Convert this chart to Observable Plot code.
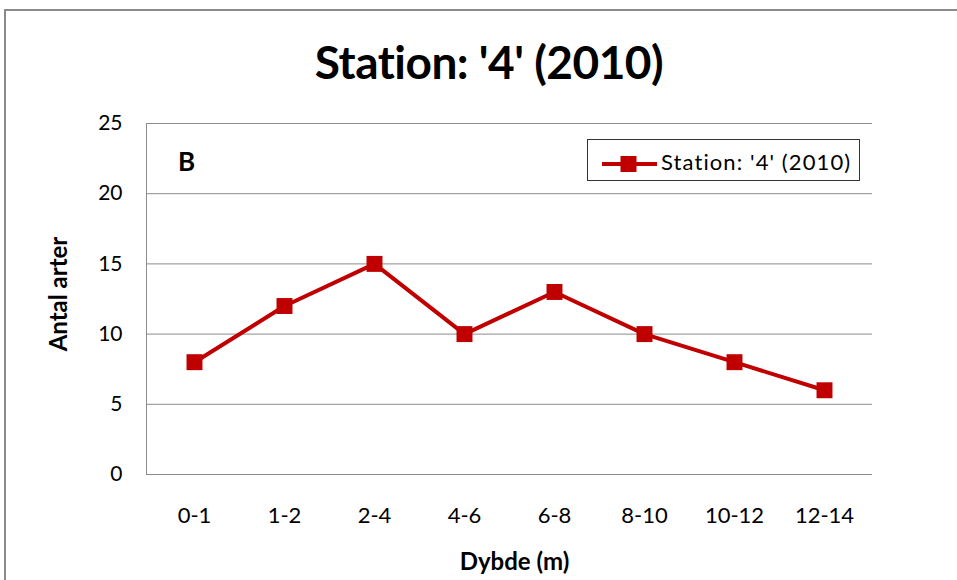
<!DOCTYPE html>
<html>
<head>
<meta charset="utf-8">
<script src="https://cdn.jsdelivr.net/npm/d3@7"></script>
<script src="https://cdn.jsdelivr.net/npm/@observablehq/plot@0.6"></script>
<style>
  html, body { margin: 0; padding: 0; background: #fff; overflow: hidden; }
  #page { position: relative; width: 957px; height: 580px; overflow: hidden; font-family: Lato, "Open Sans", sans-serif; }
  #border { position: absolute; left: 4px; top: 9px; width: 1000px; height: 700px; border: 2px solid #8a8a8a; box-sizing: border-box; }
  #title { position: absolute; left: 0; top: 39px; width: 978px; text-align: center; font-size: 46px; letter-spacing: -0.5px; font-weight: 700; color: #000; line-height: 46px; white-space: nowrap; }
  #chart { position: absolute; left: 0; top: 100px; }
  #legend { position: absolute; left: 587px; top: 139px; width: 273px; height: 42px; border: 1px solid #333; box-sizing: border-box; background: #fff; }
  #legend svg { position: absolute; left: 14px; top: 13px; }
  #legend span { position: absolute; left: 73px; top: 9.5px; font-size: 22px; letter-spacing: 1.1px; color: #000; line-height: 24px; white-space: nowrap; }
</style>
</head>
<body>
<div id="page">
  <div id="border"></div>
  <div id="title"></div>
  <div id="chart"></div>
  <div id="legend">
    <svg width="58" height="22"><line x1="0" x2="55" y1="11" y2="11" stroke="#c00000" stroke-width="4"></line><rect x="18.5" y="3" width="16" height="16" fill="#c00000"></rect></svg>
    <span id="legendText"></span>
  </div>
</div>
<script>
const chartTitle = "Station: '4' (2010)";
const seriesName = "Station: '4' (2010)";
const categories = ["0-1", "1-2", "2-4", "4-6", "6-8", "8-10", "10-12", "12-14"];
const values = [8, 12, 15, 10, 13, 10, 8, 6];
const yTicks = [0, 5, 10, 15, 20, 25];
const xLabel = "Dybde (m)";
const yLabel = "Antal arter";
const panelLabel = "B";

document.getElementById("title").textContent = chartTitle;
document.getElementById("legendText").textContent = seriesName;

const data = categories.map((c, i) => ({depth: c, count: values[i]}));
const red = "#c00000";
const grid = "#8c8c8c";

let frameLeft;
try { frameLeft = Plot.frame({anchor: "left", stroke: grid}); } catch (e) { frameLeft = null; }

const chart = Plot.plot({
  width: 957,
  height: 480,
  marginLeft: 146,
  marginRight: 85,
  marginTop: 23,
  marginBottom: 106,
  style: {fontFamily: "Lato, 'Open Sans', sans-serif", fontSize: "20px", color: "#000", background: "transparent", overflow: "visible"},
  x: {type: "band", domain: categories, padding: 0, label: null},
  y: {domain: [0, 25], ticks: yTicks, label: null},
  marks: [
    Plot.gridY(yTicks, {stroke: grid, strokeOpacity: 1, strokeWidth: 1}),
    frameLeft,
    Plot.axisY(yTicks, {tickSize: 0, tickPadding: 24, fontSize: 21, label: null}),
    Plot.axisX({tickSize: 0, tickPadding: 33, fontSize: 22, label: null}),
    Plot.lineY(data, {x: "depth", y: "count", stroke: red, strokeWidth: 4}),
    Plot.dot(data, {x: "depth", y: "count", symbol: "square", r: 9, fill: red, stroke: "none"}),
    Plot.text([panelLabel], {frameAnchor: "top-left", dx: 40, dy: 39.5, text: d => d, fontSize: 26, fontWeight: 700, textAnchor: "middle", lineAnchor: "middle"}),
    Plot.text([yLabel], {frameAnchor: "left", dx: -87, dy: -5, rotate: -90, text: d => d, fontSize: 24, fontWeight: 700, textAnchor: "middle", lineAnchor: "middle"}),
    Plot.text([xLabel], {frameAnchor: "bottom", dx: 5, dy: 87.5, text: d => d, fontSize: 24, fontWeight: 700, textAnchor: "middle", lineAnchor: "middle"})
  ].filter(Boolean)
});
document.getElementById("chart").appendChild(chart);
</script>
</body>
</html>
